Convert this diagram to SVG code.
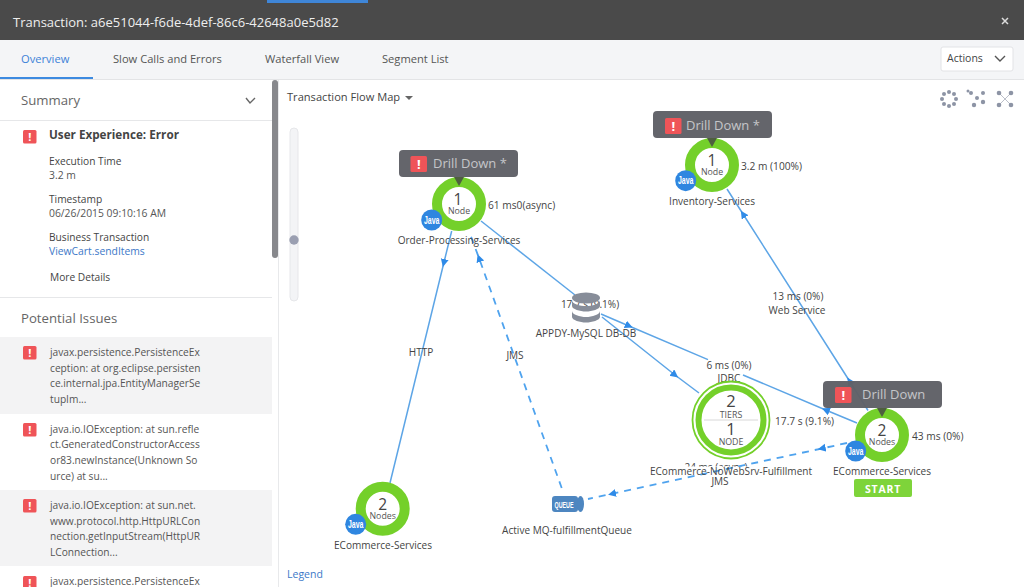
<svg xmlns="http://www.w3.org/2000/svg" width="1024" height="587" viewBox="0 0 1024 587">
<style>
text{font-family:"Open Sans","Liberation Sans",sans-serif;fill:#4a4a4a}
.lbl{font-size:10.05px;text-anchor:middle;fill:#444}
.st{font-size:10.2px;fill:#444}
.p{font-size:10.35px;fill:#555}
.issue{font-size:10.2px;fill:#555}
.h{font-size:13.2px;fill:#666}
.tab{font-size:11.15px;fill:#555}
.ring{fill:#fff;stroke:#74d02a;stroke-width:10}
.num{font-size:15.5px;text-anchor:middle;fill:#444}
.sub{font-size:8.8px;text-anchor:middle;fill:#555}
.java{fill:#2f86e0}
.jt{font-size:10px;font-weight:700;text-anchor:middle;fill:#fff;font-family:"Liberation Sans",sans-serif}
.dd{fill:#5f6066;fill-opacity:.97}
.ddt{font-size:13px;fill:#c4c5c9}
.ln{fill:none;stroke:#5da5e6;stroke-width:1.5;marker-mid:url(#arr)}
.dash{fill:none;stroke:#4fa3ee;stroke-width:1.8;stroke-dasharray:7 6;marker-mid:url(#arr)}
.dot{fill:#8d94a5}
</style>
<defs>
<marker id="arr" markerWidth="10" markerHeight="10" refX="4" refY="4" orient="auto" markerUnits="userSpaceOnUse"><path d="M0 0L8 4L0 8Z" fill="#2f8be8"/></marker>
<g id="err"><rect x="0" y="0" width="13.500" height="13.500" rx="1.500" fill="#ef5458"/><text x="6.750" y="11" font-size="11" font-weight="700" text-anchor="middle" style="fill:#fff">!</text></g>
<g id="err-big"><rect x="0" y="0" width="16.500" height="16" rx="1.500" fill="#ef5458"/><text x="8.250" y="13" font-size="13" font-weight="700" text-anchor="middle" style="fill:#fff">!</text></g>
<path id="tip" d="M-5 0H5L0 9Z" fill="#4e5f3f"/>
</defs>
<rect width="1024" height="587" fill="#fff"/>
<g id="header">
<rect width="1024" height="40" fill="#4a4a4a"/>
<rect x="267" width="101" height="3" fill="#3f86d8"/>
<text x="13" y="27" font-size="13" style="fill:#eee">Transaction: a6e51044-f6de-4def-86c6-42648a0e5d82</text>
<path d="M1002 18L1008 24M1008 18L1002 24" stroke="#ddd" stroke-width="1.500"/>
</g>
<g id="tabs">
<rect y="40" width="1024" height="39" fill="#f4f5f7"/>
<rect y="79" width="1024" height="1" fill="#e3e4e6"/>
<rect y="77" width="93" height="2" fill="#3c8ae0"/>
<text x="21" y="63" class="tab" style="fill:#3c82d8">Overview</text>
<text x="113" y="63" class="tab">Slow Calls and Errors</text>
<text x="265" y="63" class="tab">Waterfall View</text>
<text x="382" y="63" class="tab">Segment List</text>
<rect x="941" y="47" width="72" height="24" rx="2" fill="#fff" stroke="#e2e3e6"/>
<text x="947" y="62" font-size="10.500" style="fill:#444">Actions</text>
<path d="M995 56L1000 61L1005 56" fill="none" stroke="#555" stroke-width="1.400"/>
</g>
<g id="sidebar">
<rect x="278" y="80" width="1" height="507" fill="#e8e9eb"/>
<rect x="272" y="80" width="6" height="178" rx="3" fill="#87888c"/>
<text x="21" y="105" class="h">Summary</text>
<path d="M246 98L250 103L255 98" fill="none" stroke="#666" stroke-width="1.400"/>
<rect y="120" width="272" height="1" fill="#e6e7e9"/>
<use href="#err" x="23" y="130"/>
<text x="49" y="139" font-size="11.700" font-weight="700" style="fill:#444">User Experience: Error</text>
<text x="49" y="165" class="st">Execution Time</text>
<text x="49" y="179" class="p">3.2 m</text>
<text x="49" y="203" class="st">Timestamp</text>
<text x="49" y="217" class="p">06/26/2015 09:10:16 AM</text>
<text x="49" y="241" class="st">Business Transaction</text>
<text x="49" y="255" class="p" style="fill:#3c78c8">ViewCart.sendItems</text>
<text x="50" y="281" class="st">More Details</text>
<rect y="297" width="272" height="1" fill="#e6e7e9"/>
<text x="21" y="323" class="h">Potential Issues</text>
<rect y="337" width="272" height="77" fill="#f3f3f4"/>
<rect y="490" width="272" height="76" fill="#f3f3f4"/>
<use href="#err" x="23" y="346"/>
<text class="issue"><tspan x="50" y="356">javax.persistence.PersistenceEx</tspan><tspan x="50" y="372">ception: at org.eclipse.persisten</tspan><tspan x="50" y="387">ce.internal.jpa.EntityManagerSe</tspan><tspan x="50" y="403">tupIm...</tspan></text>
<use href="#err" x="23" y="423"/>
<text class="issue"><tspan x="50" y="433">java.io.IOException: at sun.refle</tspan><tspan x="50" y="448">ct.GeneratedConstructorAccess</tspan><tspan x="50" y="464">or83.newInstance(Unknown So</tspan><tspan x="50" y="480">urce) at su...</tspan></text>
<use href="#err" x="23" y="499"/>
<text class="issue"><tspan x="50" y="509">java.io.IOException: at sun.net.</tspan><tspan x="50" y="525">www.protocol.http.HttpURLCon</tspan><tspan x="50" y="540">nection.getInputStream(HttpUR</tspan><tspan x="50" y="556">LConnection...</tspan></text>
<use href="#err" x="23" y="576"/>
<text x="50" y="585" class="issue">javax.persistence.PersistenceEx</text>
</g>
<g id="map-controls">
<text x="287" y="101" font-size="11.100" style="fill:#444">Transaction Flow Map</text>
<path d="M405 96H413L409 100Z" fill="#666"/>
<rect x="290" y="128" width="8" height="173" rx="4" fill="#f3f4f6" stroke="#e6e7ea"/>
<circle cx="294" cy="240" r="4.700" fill="#9a9fb1"/>
<text x="287" y="578" font-size="10.500" style="fill:#3c78c8">Legend</text>
<g id="layout-icons" class="dot">
<circle cx="949" cy="92" r="2"/><circle cx="954" cy="94" r="2"/><circle cx="956" cy="99" r="2"/><circle cx="954" cy="104" r="2"/><circle cx="949" cy="106" r="2"/><circle cx="944" cy="104" r="2"/><circle cx="942" cy="99" r="2"/><circle cx="944" cy="94" r="2"/>
<circle cx="971" cy="93" r="2"/><circle cx="983" cy="93" r="2"/><circle cx="977" cy="98" r="2"/><circle cx="983" cy="102" r="2.200"/><circle cx="974" cy="105" r="2.200"/><circle cx="968" cy="91" r="1.500"/>
<path d="M999 93L1011 105M1011 93L999 105" stroke="#bcc0ca" stroke-width="1"/>
<circle cx="999" cy="93" r="2.300"/><circle cx="1011" cy="93" r="2.300"/><circle cx="999" cy="105" r="2.300"/><circle cx="1011" cy="105" r="2.300"/>
</g>
</g>
<g id="hidden-label">
<text x="716" y="471" class="lbl">24 ms (async)</text>
<rect x="651" y="466.500" width="162" height="10" fill="#fff"/>
</g>
<g id="connectors">
<path class="ln" d="M451.700 231L443.800 263L390 483"/>
<path class="dash" d="M561.700 488L479 258L470 234"/>
<path class="ln" d="M481 221L575 295"/>
<path class="ln" d="M602 317L675 375L699 393"/>
<path class="ln" d="M601 314L629 326L708 359.600"/>
<path class="ln" d="M857 423L825.700 410L743 375"/>
<path class="ln" d="M868 410.500L849.500 381L743 214L727 189"/>
<path class="dash" d="M847 443L821.700 448.500L612 493.800L588 499"/>
</g>
<g id="connector-labels">
<text x="421" y="356" class="lbl">HTTP</text>
<text x="515" y="359" class="lbl">JMS</text>
<text x="590" y="308" class="lbl">17.7 s (9.1%)</text>
<text x="798" y="300" class="lbl">13 ms (0%)</text>
<text x="797" y="314" class="lbl">Web Service</text>
<text x="729" y="369" class="lbl">6 ms (0%)</text>
<text x="729" y="382" class="lbl">JDBC</text>
</g>
<g id="node-order">
<rect x="399" y="150" width="119" height="27" rx="4" class="dd"/>
<circle cx="459" cy="204" r="22" class="ring"/>
<use href="#tip" x="459" y="177"/>
<use href="#err-big" x="410.500" y="156"/>
<text x="433" y="168" class="ddt">Drill Down *</text>
<text x="458" y="204.500" class="num">1</text><text x="459" y="214" class="sub">Node</text>
<circle cx="431.700" cy="220" r="10.500" class="java"/><text x="431.700" y="223.500" class="jt" textLength="15.500" lengthAdjust="spacingAndGlyphs">Java</text>
<text x="459" y="244" class="lbl">Order-Processing-Services</text>
<text x="488" y="209" class="st">61 ms0(async)</text>
</g>
<g id="node-inventory">
<rect x="653" y="111" width="119" height="27" rx="4" class="dd"/>
<circle cx="712" cy="165" r="22" class="ring"/>
<use href="#tip" x="712" y="138"/>
<use href="#err-big" x="665" y="118"/>
<text x="686" y="130" class="ddt">Drill Down *</text>
<text x="712" y="165.500" class="num">1</text><text x="712" y="175" class="sub">Node</text>
<circle cx="685.700" cy="180.700" r="10.500" class="java"/><text x="685.700" y="184.200" class="jt" textLength="15.500" lengthAdjust="spacingAndGlyphs">Java</text>
<text x="712" y="205" class="lbl">Inventory-Services</text>
<text x="741" y="170" class="st">3.2 m (100%)</text>
</g>
<g id="node-ecommerce-start">
<rect x="823" y="381" width="119" height="27" rx="4" class="dd"/>
<circle cx="882" cy="435" r="22" class="ring"/>
<use href="#tip" x="882" y="408"/>
<use href="#err-big" x="835" y="387"/>
<text x="862" y="399" class="ddt">Drill Down</text>
<text x="882" y="436" class="num">2</text><text x="882" y="445" class="sub">Nodes</text>
<circle cx="855.700" cy="451" r="10.500" class="java"/><text x="855.700" y="454.500" class="jt" textLength="15.500" lengthAdjust="spacingAndGlyphs">Java</text>
<rect x="854" y="479" width="58" height="18" rx="2" fill="#7ed43a"/>
<text x="883" y="492.500" font-size="10.500" font-weight="700" text-anchor="middle" letter-spacing=".8" style="fill:#fff">START</text>
<text x="882" y="475" class="lbl">ECommerce-Services</text>
<text x="912" y="440" class="st">43 ms (0%)</text>
</g>
<g id="node-fulfillment">
<circle cx="731" cy="420" r="38.500" fill="#fff" stroke="#74d02a" stroke-width="1.800"/>
<circle cx="731" cy="420" r="32.500" fill="#fff" stroke="#74d02a" stroke-width="6"/>
<path d="M704 420H758" stroke="#d8d8d8"/>
<text x="731" y="407" class="num" style="font-size:16.500px">2</text><text x="731" y="417.500" class="sub">TIERS</text>
<text x="731" y="435" class="num" style="font-size:16.500px">1</text><text x="731" y="444.500" class="sub">NODE</text>
<text x="731" y="475" class="lbl">ECommerce-NoWebSrv-Fulfillment</text>
<text x="720" y="485" class="lbl">JMS</text>
<text x="775" y="425" class="st">17.7 s (9.1%)</text>
</g>
<g id="node-ecommerce">
<circle cx="382.700" cy="508.700" r="22" class="ring"/>
<text x="382.700" y="509.500" class="num">2</text><text x="382.700" y="519" class="sub">Nodes</text>
<circle cx="355.700" cy="524.300" r="10.500" class="java"/><text x="355.700" y="527.800" class="jt" textLength="15.500" lengthAdjust="spacingAndGlyphs">Java</text>
<text x="383" y="549" class="lbl">ECommerce-Services</text>
</g>
<g id="node-db">
<ellipse cx="586" cy="298" rx="14" ry="5.500" fill="#878d99"/>
<path d="M572 300V306C572 309 580 311.500 586 311.500S600 309 600 306V300C600 304 592 306 586 306S572 304 572 300Z" fill="#878d99"/>
<path d="M572 311V317C572 320 580 322.500 586 322.500S600 320 600 317V311C600 314.500 592 317 586 317S572 314.500 572 311Z" fill="#878d99"/>
<text x="586" y="337" class="lbl">APPDY-MySQL DB-DB</text>
</g>
<g id="node-queue">
<rect x="552" y="496" width="26" height="16" rx="3" fill="#4d86c0"/>
<ellipse cx="580.500" cy="504" rx="3.500" ry="8" fill="#4d86c0"/>
<text x="564" y="507.500" font-size="9.500" font-weight="700" text-anchor="middle" textLength="19" lengthAdjust="spacingAndGlyphs" style="fill:#fff;font-family:'Liberation Sans',sans-serif">QUEUE</text>
<text x="567" y="534" class="lbl">Active MQ-fulfillmentQueue</text>
</g>
</svg>
